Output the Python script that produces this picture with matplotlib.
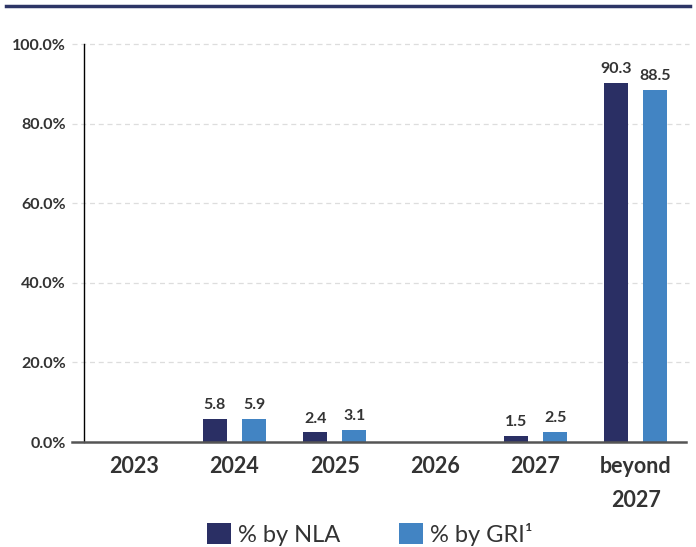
import numpy as np
import matplotlib.pyplot as plt
from matplotlib.lines import Line2D

plt.rcParams['font.family'] = ['Lato', 'DejaVu Sans']

# data
categories = ["2023", "2024", "2025", "2026", "2027", "beyond\n2027"]
nla = [0, 5.8, 2.4, 0, 1.5, 90.3]
gri = [0, 5.9, 3.1, 0, 2.5, 88.5]
y_ticks = [0, 20, 40, 60, 80, 100]
y_labels = ["0.0%", "20.0%", "40.0%", "60.0%", "80.0%", "100.0%"]

NLA_COLOR = "#2a2f64"
GRI_COLOR = "#4284c3"
TEXT = "#333333"

fig = plt.figure(figsize=(6.96, 5.47), dpi=100)
ax = fig.add_axes([84 / 696, 105 / 547, 602 / 696, 398 / 547])

x = np.arange(len(categories))
w = 0.24
off = 0.195
b1 = ax.bar(x - off, nla, w, color=NLA_COLOR, label="% by NLA", zorder=3)
b2 = ax.bar(x + off, gri, w, color=GRI_COLOR, label="% by GRI¹", zorder=3)

ax.bar_label(b1, labels=["" if v == 0 else f"{v}" for v in nla], padding=5,
             fontsize=11.5, fontweight="bold", color=TEXT)
ax.bar_label(b2, labels=["" if v == 0 else f"{v}" for v in gri], padding=5,
             fontsize=11.5, fontweight="bold", color=TEXT)

ax.set_xlim(-0.5, 5.5)
ax.set_ylim(0, 100)
ax.set_xticks(x)
ax.set_xticklabels(categories, fontsize=15.5, fontweight="bold", color=TEXT,
                   linespacing=1.75)
ax.set_yticks(y_ticks)
ax.set_yticklabels(y_labels, fontsize=11.5, fontweight="bold", color=TEXT)
ax.tick_params(axis="x", length=0, pad=10)
ax.tick_params(axis="y", length=0, pad=13)

# grid lines, extending slightly left of the spine
ext = -12 / 602
for yv in y_ticks[1:]:
    ax.axhline(yv, xmin=ext, xmax=1.005, color="#dddddd", lw=0.9,
               ls=(0, (4, 3)), clip_on=False, zorder=1)
ax.axhline(0, xmin=ext, xmax=1.0, color="#555555", lw=1.8, clip_on=False, zorder=4)

for s in ["top", "right", "bottom"]:
    ax.spines[s].set_visible(False)
ax.spines["left"].set_color("black")
ax.spines["left"].set_linewidth(1.0)

# header rule
fig.add_artist(Line2D([6 / 696, 690 / 696], [541 / 547, 541 / 547],
                      color="#2d3566", lw=2.5))

leg = fig.legend(loc="center", bbox_to_anchor=(370 / 696, 13 / 547), ncol=2,
                 frameon=False, fontsize=17, handlelength=1.0, handleheight=1.0,
                 handletextpad=0.3, columnspacing=2.5)
for t in leg.get_texts():
    t.set_color(TEXT)

fig.savefig("out.png", dpi=100)
